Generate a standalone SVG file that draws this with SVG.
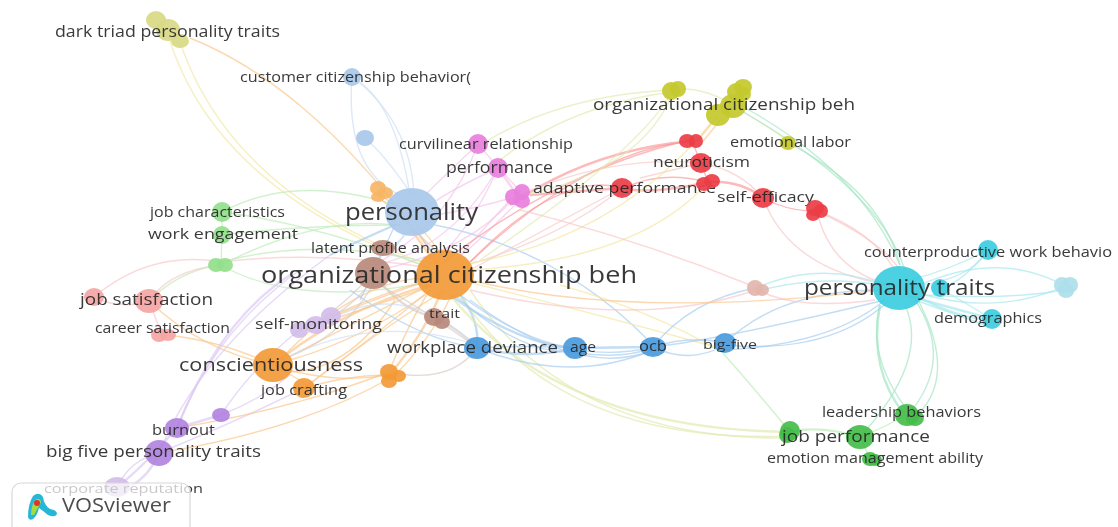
<svg xmlns="http://www.w3.org/2000/svg" width="1118" height="527" viewBox="0 0 1118 527">
<defs>
<style>
text{font-family:"Open Sans","Noto Sans","DejaVu Sans",sans-serif;fill:#262626;opacity:.9}
#links path{fill:none;stroke-width:1.4;stroke-opacity:.68}
#links path.t{stroke-width:2.4}
.o{stroke:#fbc68a}.b{stroke:#a6cdf0}.l{stroke:#cddff3}.p{stroke:#f3c4ec}.r{stroke:#fb9a9a}.s{stroke:#f7c8c8}.g{stroke:#bdeab8}.y{stroke:#f3e8a4}.v{stroke:#dcc8f3}.c{stroke:#a6e8ee}.m{stroke:#a4e4c4}.n{stroke:#d8ccc4}.k{stroke:#e0eab0}
.oc{fill:#f39a36}.bc{fill:#4b9bdc}.lc{fill:#a9c8ea}.pc{fill:#e87fdc}.rc{fill:#ec3d45}.sc{fill:#f6a5a5}.gc{fill:#44bd4a}.lg{fill:#93e08c}.yc{fill:#c4c92e}.kc{fill:#d9d986}.vc{fill:#b184e0}.wc{fill:#d2bdea}.cc{fill:#3ccde0}.ac{fill:#ace0ec}.tc{fill:#b98a7c}.dc{fill:#e3b5ac}.fc{fill:#f7b566}
ellipse{fill-opacity:.92}
</style>
<filter id="soft" x="-2%" y="-2%" width="104%" height="104%"><feGaussianBlur stdDeviation="0.55"/></filter>
</defs>
<rect width="1118" height="527" fill="#ffffff"/>
<g filter="url(#soft)">
<g id="links">
<path class="y" d="M168 35Q215 190 430 268"/><path class="y" d="M180 42Q230 190 420 262"/><path class="o" d="M190 38Q320 90 440 265"/>
<path class="l" d="M352 77Q345 170 400 195"/><path class="l" d="M352 77Q410 120 414 195"/><path class="l" d="M352 77Q395 100 410 195"/><path class="l" d="M365 138Q385 155 412 195"/>
<path class="g" d="M222 212Q300 170 410 210"/><path class="g" d="M222 235Q300 225 400 225"/><path class="g" d="M221 265Q320 215 395 225"/><path class="g" d="M222 212Q320 225 430 268"/><path class="g" d="M221 265Q300 310 440 280"/><path class="g" d="M221 262Q320 235 440 265"/><path class="g" d="M221 265Q180 270 149 301"/><path class="g" d="M222 235L221 265"/><path class="g" d="M222 212L222 235"/>
<path class="s" d="M94 297Q120 310 149 301"/><path class="s" d="M149 301Q170 270 221 265"/><path class="s" d="M149 301L162 335"/><path class="s" d="M94 297Q150 250 221 262"/><path class="o" d="M149 301Q200 350 273 365"/><path class="o" d="M165 335Q220 340 273 365"/><path class="s" d="M221 262Q320 250 430 268"/>
<path class="v t" d="M177 428Q220 320 290 275"/><path class="v" d="M177 428Q215 330 300 270"/><path class="v" d="M159 453Q200 350 330 255"/><path class="v t" d="M177 428L221 415"/><path class="v" d="M221 415Q260 400 290 375"/><path class="v" d="M159 453Q240 420 300 390"/><path class="v t" d="M117 487Q140 470 177 428"/><path class="v" d="M117 487Q130 460 159 453"/><path class="v t" d="M130 487Q150 475 159 453"/><path class="v" d="M221 415Q250 370 299 330"/>
<path class="o" d="M159 453Q300 430 390 378"/><path class="o" d="M177 428Q290 410 389 372"/><path class="o t" d="M273 365Q340 310 430 285"/><path class="o" d="M273 365Q360 320 430 285"/><path class="o" d="M280 360Q350 285 420 278"/><path class="o" d="M273 365Q330 385 389 375"/><path class="o" d="M304 388Q370 340 430 290"/><path class="o" d="M304 388Q380 330 445 290"/><path class="o t" d="M389 375Q420 340 440 295"/><path class="o" d="M395 375Q430 340 450 298"/><path class="o" d="M389 372Q410 320 430 290"/><path class="o" d="M300 330Q370 300 430 280"/><path class="o" d="M316 325Q390 300 435 285"/><path class="o" d="M331 316Q390 290 430 280"/><path class="o" d="M273 365Q320 390 304 388"/><path class="o" d="M290 360Q360 340 425 295"/><path class="o" d="M304 388Q350 375 389 375"/><path class="o" d="M290 372Q350 370 395 300"/>
<path class="n" d="M373 273Q330 320 299 330"/><path class="n" d="M373 280Q350 310 316 325"/><path class="n t" d="M373 273Q400 310 434 317"/><path class="n" d="M380 285Q440 320 477 348"/><path class="n t" d="M434 317Q460 330 477 348"/><path class="n" d="M373 285Q340 340 280 360"/><path class="n" d="M389 372Q450 385 477 348"/>
<path class="l" d="M412 230L373 262"/><path class="l" d="M405 230Q400 250 383 248"/><path class="b t" d="M395 225Q360 240 330 255"/><path class="b" d="M420 235Q430 250 440 260"/><path class="b t" d="M460 295Q480 320 477 348"/><path class="b" d="M350 290Q420 340 477 348"/><path class="l" d="M273 365Q370 310 477 345"/><path class="l" d="M330 320Q400 280 470 340"/><path class="b" d="M395 225Q370 280 360 300"/><path class="b" d="M435 225Q560 250 648 340"/>
<path class="o t" d="M412 230Q425 250 438 265"/><path class="o" d="M380 195Q420 220 445 260"/><path class="o" d="M370 190Q400 215 440 255"/>
<path class="p" d="M478 144Q440 180 425 195"/><path class="p" d="M498 168Q450 190 430 205"/><path class="p" d="M498 168Q470 230 440 255"/><path class="p" d="M478 144Q500 170 521 192"/><path class="p t" d="M498 168L515 192"/><path class="p" d="M515 197Q470 210 435 215"/><path class="p" d="M515 197Q470 250 380 270"/><path class="p" d="M520 200Q470 250 455 260"/><path class="p" d="M478 144Q450 220 380 262"/><path class="p" d="M498 168Q450 250 375 265"/><path class="p" d="M510 200L460 255"/>
<path class="r t" d="M692 141Q590 150 510 205"/><path class="r" d="M692 141Q590 150 470 262"/><path class="s" d="M701 163Q610 155 520 195"/><path class="r t" d="M622 188L530 195"/><path class="r" d="M622 188Q560 170 470 262"/><path class="r" d="M708 182Q660 170 625 188"/><path class="r t" d="M708 182Q650 195 622 188"/><path class="s" d="M701 163L640 178"/><path class="r" d="M692 141L701 163"/><path class="r" d="M701 163L708 182"/><path class="r t" d="M708 182Q740 180 763 198"/><path class="s" d="M701 163Q740 170 763 198"/><path class="r" d="M763 198Q790 212 817 211"/><path class="s" d="M622 188Q560 240 450 270"/><path class="r" d="M690 140Q560 170 440 265"/><path class="s" d="M622 188L470 270"/><path class="o t" d="M718 115L697 141"/><path class="o" d="M722 118L700 145"/>
<path class="s" d="M763 198Q790 270 890 285"/><path class="s" d="M817 211Q830 270 890 285"/><path class="s" d="M817 211Q870 230 895 270"/><path class="s" d="M817 211Q880 240 900 270"/>
<path class="k" d="M672 90Q560 95 480 145"/><path class="k" d="M672 92Q570 105 500 160"/><path class="k" d="M672 90Q700 85 733 105"/><path class="k" d="M672 95Q640 170 525 195"/><path class="k" d="M672 92Q640 150 480 260"/><path class="y" d="M708 182Q640 260 470 270"/><path class="y" d="M718 115Q620 240 460 265"/>
<path class="k" d="M740 110Q790 140 788 143"/><path class="m" d="M740 105Q860 170 900 265"/><path class="m" d="M740 110Q880 190 905 270"/><path class="m" d="M788 143Q880 190 900 265"/>
<path class="c" d="M988 250Q950 270 910 280"/><path class="c" d="M988 250Q975 275 925 285"/><path class="c" d="M988 250Q960 285 940 288"/><path class="c" d="M920 285Q1000 250 1065 286"/><path class="c" d="M925 295Q1000 315 1065 286"/><path class="c" d="M925 295Q1010 300 1065 290"/><path class="c t" d="M905 295L992 319"/><path class="c t" d="M915 295Q960 320 992 319"/><path class="c" d="M940 288L992 319"/><path class="c" d="M915 300L985 325"/>
<path class="m t" d="M880 305Q868 370 905 415"/><path class="m" d="M880 305Q865 360 915 420"/><path class="m" d="M905 305Q930 360 860 437"/><path class="m" d="M915 300Q955 360 908 415"/><path class="m" d="M918 300Q960 380 912 420"/><path class="g" d="M860 437Q890 425 905 415"/><path class="g t" d="M790 432Q820 425 860 437"/><path class="g" d="M860 437L870 459"/><path class="g" d="M722 352Q760 395 790 432"/>
<path class="k t" d="M450 295Q560 430 790 432"/><path class="k" d="M460 295Q560 445 790 436"/><path class="k" d="M470 290Q570 440 785 438"/><path class="y" d="M560 285Q650 310 722 352"/><path class="y" d="M460 280Q620 320 725 350"/>
<path class="b t" d="M477 348Q530 360 575 348"/><path class="b" d="M477 348Q530 345 575 348"/><path class="b t" d="M450 295Q520 345 575 348"/><path class="b" d="M455 295Q520 355 575 352"/><path class="b" d="M460 295Q560 370 653 347"/><path class="b" d="M470 300Q580 380 653 350"/><path class="b" d="M477 348Q570 385 653 350"/><path class="b t" d="M575 348L653 347"/><path class="b" d="M575 352Q620 360 653 348"/><path class="b" d="M653 347Q690 335 725 343"/><path class="b" d="M653 347Q690 365 725 345"/><path class="b" d="M725 345Q830 355 890 300"/><path class="b" d="M725 350Q830 345 885 300"/><path class="b" d="M653 347Q720 340 885 300"/><path class="b" d="M653 347Q690 300 756 288"/><path class="b" d="M725 343Q780 290 880 290"/><path class="c" d="M756 288Q820 260 885 285"/><path class="c" d="M762 290Q820 275 880 285"/><path class="s" d="M762 292Q800 310 875 300"/>
<path class="s" d="M470 290Q640 330 756 290"/><path class="s" d="M520 210Q640 240 750 285"/><path class="o" d="M470 280Q630 320 880 290"/>
</g>
<g id="node-organizational-citizenship-2"><ellipse class="tc" cx="373" cy="273" rx="18" ry="16"/><ellipse class="oc" cx="445" cy="275" rx="29" ry="25"/><text x="261" y="283" font-size="24" textLength="376" lengthAdjust="spacingAndGlyphs">organizational citizenship beh</text></g>
<g id="node-personality"><ellipse class="lc" cx="412" cy="212" rx="27" ry="24"/><text x="345" y="220" font-size="23" textLength="133" lengthAdjust="spacingAndGlyphs">personality</text></g>
<g id="node-personality-traits"><ellipse class="cc" cx="899" cy="288" rx="26" ry="22"/><ellipse class="cc" cx="940" cy="288" rx="9" ry="9"/><text x="804" y="295" font-size="22" textLength="191" lengthAdjust="spacingAndGlyphs">personality traits</text></g>
<g id="node-dark-triad"><ellipse class="kc" cx="156" cy="20" rx="10" ry="9"/><ellipse class="kc" cx="168" cy="30" rx="12" ry="11"/><ellipse class="kc" cx="180" cy="41" rx="9" ry="7"/><text x="55" y="37" font-size="15.5" textLength="225" lengthAdjust="spacingAndGlyphs">dark triad personality traits</text></g>
<g id="node-customer-citizenship"><ellipse class="lc" cx="352" cy="77" rx="9" ry="9"/><text x="240" y="82" font-size="14.5" textLength="231" lengthAdjust="spacingAndGlyphs">customer citizenship behavior(</text></g>
<g id="node-pale-blue"><ellipse class="lc" cx="365" cy="138" rx="9" ry="8"/></g>
<g id="node-orange-top"><ellipse class="fc" cx="378" cy="188" rx="8" ry="7"/><ellipse class="fc" cx="385" cy="193" rx="8" ry="6"/><ellipse class="fc" cx="378" cy="197" rx="7" ry="5"/></g>
<g id="node-curvilinear"><ellipse class="pc" cx="478" cy="144" rx="10" ry="10"/><text x="399" y="149" font-size="14.5" textLength="174" lengthAdjust="spacingAndGlyphs">curvilinear relationship</text></g>
<g id="node-performance"><ellipse class="pc" cx="498" cy="168" rx="10" ry="10"/><text x="446" y="173" font-size="15.5" textLength="107" lengthAdjust="spacingAndGlyphs">performance</text></g>
<g id="node-pink-cluster"><ellipse class="pc" cx="522" cy="192" rx="8" ry="8"/><ellipse class="pc" cx="513" cy="197" rx="8" ry="8"/><ellipse class="pc" cx="522" cy="201" rx="8" ry="7"/></g>
<g id="node-adaptive-performance"><ellipse class="rc" cx="622" cy="188" rx="11" ry="10"/><text x="533" y="193" font-size="15.3" textLength="183" lengthAdjust="spacingAndGlyphs">adaptive performance</text></g>
<g id="node-yellow-a"><ellipse class="yc" cx="671" cy="91" rx="9" ry="9"/><ellipse class="yc" cx="678" cy="89" rx="8" ry="8"/></g>
<g id="node-yellow-b"><ellipse class="yc" cx="736" cy="92" rx="9" ry="9"/><ellipse class="yc" cx="743" cy="87" rx="9" ry="8"/><ellipse class="yc" cx="744" cy="94" rx="7" ry="7"/></g>
<g id="node-organizational-citizenship-1"><ellipse class="yc" cx="718" cy="115" rx="12" ry="11"/><ellipse class="yc" cx="733" cy="106" rx="13" ry="12"/><text x="593" y="110" font-size="17" textLength="262" lengthAdjust="spacingAndGlyphs">organizational citizenship beh</text></g>
<g id="node-emotional-labor"><ellipse class="yc" cx="788" cy="143" rx="8" ry="7"/><text x="730" y="147" font-size="14" textLength="121" lengthAdjust="spacingAndGlyphs">emotional labor</text></g>
<g id="node-red-top"><ellipse class="rc" cx="687" cy="141" rx="8" ry="7"/><ellipse class="rc" cx="696" cy="141" rx="7" ry="7"/></g>
<g id="node-neuroticism"><ellipse class="rc" cx="701" cy="163" rx="11" ry="10"/><text x="653" y="167" font-size="15.3" textLength="97" lengthAdjust="spacingAndGlyphs">neuroticism</text></g>
<g id="node-red-mid"><ellipse class="rc" cx="704" cy="184" rx="8" ry="7"/><ellipse class="rc" cx="712" cy="181" rx="8" ry="7"/></g>
<g id="node-self-efficacy"><ellipse class="rc" cx="763" cy="198" rx="11" ry="10"/><text x="717" y="202" font-size="15.3" textLength="97" lengthAdjust="spacingAndGlyphs">self-efficacy</text></g>
<g id="node-red-right"><ellipse class="rc" cx="815" cy="208" rx="9" ry="8"/><ellipse class="rc" cx="821" cy="211" rx="7" ry="7"/><ellipse class="rc" cx="813" cy="215" rx="7" ry="6"/></g>
<g id="node-counterproductive"><ellipse class="cc" cx="988" cy="250" rx="10" ry="10"/><text x="864" y="257" font-size="14.5" textLength="248" lengthAdjust="spacingAndGlyphs">counterproductive work behavio</text></g>
<g id="node-pale-cyan"><ellipse class="ac" cx="1062" cy="285" rx="8" ry="8"/><ellipse class="ac" cx="1070" cy="285" rx="8" ry="8"/><ellipse class="ac" cx="1066" cy="291" rx="8" ry="7"/></g>
<g id="node-demographics"><ellipse class="cc" cx="992" cy="319" rx="10" ry="10"/><text x="934" y="323" font-size="14.5" textLength="108" lengthAdjust="spacingAndGlyphs">demographics</text></g>
<g id="node-pinkbrown"><ellipse class="dc" cx="755" cy="288" rx="8" ry="8"/><ellipse class="dc" cx="762" cy="290" rx="7" ry="6"/></g>
<g id="node-job-characteristics"><ellipse class="lg" cx="222" cy="212" rx="10" ry="10"/><text x="150" y="217" font-size="14" textLength="135" lengthAdjust="spacingAndGlyphs">job characteristics</text></g>
<g id="node-work-engagement"><ellipse class="lg" cx="222" cy="235" rx="9" ry="9"/><text x="148" y="239" font-size="15.3" textLength="150" lengthAdjust="spacingAndGlyphs">work engagement</text></g>
<g id="node-green-left"><ellipse class="lg" cx="216" cy="265" rx="8" ry="7"/><ellipse class="lg" cx="225" cy="265" rx="8" ry="7"/></g>
<g id="node-latent-profile"><ellipse class="tc" cx="383" cy="248" rx="12" ry="8"/><text x="311" y="253" font-size="14" textLength="159" lengthAdjust="spacingAndGlyphs">latent profile analysis</text></g>
<g id="node-job-satisfaction"><ellipse class="sc" cx="94" cy="297" rx="10" ry="9"/><ellipse class="sc" cx="149" cy="301" rx="14" ry="12"/><text x="80" y="305" font-size="17" textLength="133" lengthAdjust="spacingAndGlyphs">job satisfaction</text></g>
<g id="node-career-satisfaction"><ellipse class="sc" cx="159" cy="335" rx="8" ry="7"/><ellipse class="sc" cx="168" cy="335" rx="8" ry="6"/><text x="95" y="333" font-size="14" textLength="135" lengthAdjust="spacingAndGlyphs">career satisfaction</text></g>
<g id="node-self-monitoring"><ellipse class="wc" cx="299" cy="330" rx="9" ry="8"/><ellipse class="wc" cx="316" cy="325" rx="11" ry="9"/><ellipse class="wc" cx="331" cy="316" rx="10" ry="9"/><text x="255" y="329" font-size="15.3" textLength="127" lengthAdjust="spacingAndGlyphs">self-monitoring</text></g>
<g id="node-trait"><ellipse class="tc" cx="434" cy="317" rx="10" ry="9"/><ellipse class="tc" cx="442" cy="322" rx="8" ry="7"/><text x="429" y="318" font-size="13.5" textLength="31" lengthAdjust="spacingAndGlyphs">trait</text></g>
<g id="node-workplace-deviance"><ellipse class="bc" cx="477" cy="348" rx="13" ry="11"/><text x="387" y="353" font-size="16.5" textLength="171" lengthAdjust="spacingAndGlyphs">workplace deviance</text></g>
<g id="node-age"><ellipse class="bc" cx="575" cy="348" rx="12" ry="11"/><text x="570" y="352" font-size="14" textLength="26" lengthAdjust="spacingAndGlyphs">age</text></g>
<g id="node-ocb"><ellipse class="bc" cx="653" cy="347" rx="13" ry="10"/><text x="639" y="351" font-size="14" textLength="28" lengthAdjust="spacingAndGlyphs">ocb</text></g>
<g id="node-big-five"><ellipse class="bc" cx="725" cy="343" rx="11" ry="10"/><text x="703" y="349" font-size="13.5" textLength="54" lengthAdjust="spacingAndGlyphs">big-five</text></g>
<g id="node-conscientiousness"><ellipse class="oc" cx="273" cy="365" rx="20" ry="17"/><text x="179" y="371" font-size="18.5" textLength="184" lengthAdjust="spacingAndGlyphs">conscientiousness</text></g>
<g id="node-job-crafting"><ellipse class="oc" cx="304" cy="388" rx="11" ry="10"/><text x="261" y="395" font-size="14" textLength="86" lengthAdjust="spacingAndGlyphs">job crafting</text></g>
<g id="node-orange-cluster"><ellipse class="oc" cx="389" cy="372" rx="9" ry="8"/><ellipse class="oc" cx="399" cy="376" rx="7" ry="6"/><ellipse class="oc" cx="389" cy="381" rx="8" ry="7"/></g>
<g id="node-purple-small"><ellipse class="vc" cx="221" cy="415" rx="9" ry="7"/></g>
<g id="node-burnout"><ellipse class="vc" cx="177" cy="428" rx="12" ry="10"/><text x="152" y="435" font-size="14.5" textLength="63" lengthAdjust="spacingAndGlyphs">burnout</text></g>
<g id="node-big-five-personality"><ellipse class="vc" cx="159" cy="453" rx="14" ry="13"/><text x="46" y="457" font-size="15.5" textLength="215" lengthAdjust="spacingAndGlyphs">big five personality traits</text></g>
<g id="node-leadership-behaviors"><ellipse class="gc" cx="907" cy="415" rx="12" ry="11"/><ellipse class="gc" cx="915" cy="418" rx="9" ry="8"/><text x="822" y="417" font-size="14" textLength="159" lengthAdjust="spacingAndGlyphs">leadership behaviors</text></g>
<g id="node-green-left2"><ellipse class="gc" cx="790" cy="431" rx="10" ry="10"/><ellipse class="gc" cx="787" cy="435" rx="8" ry="8"/></g>
<g id="node-job-performance"><ellipse class="gc" cx="860" cy="437" rx="14" ry="12"/><text x="782" y="442" font-size="17" textLength="148" lengthAdjust="spacingAndGlyphs">job performance</text></g>
<g id="node-emotion-management"><ellipse class="gc" cx="870" cy="459" rx="8" ry="7"/><ellipse class="gc" cx="875" cy="460" rx="7" ry="6"/><text x="767" y="463" font-size="14" textLength="216" lengthAdjust="spacingAndGlyphs">emotion management ability</text></g>
<g id="node-corporate-reputation"><ellipse class="wc" cx="117" cy="487" rx="13" ry="10"/><text x="44" y="493" font-size="13" textLength="159" lengthAdjust="spacingAndGlyphs">corporate reputation</text></g>
<g id="logo">
<rect x="12" y="483" width="178" height="60" rx="9" fill="#ffffff" fill-opacity=".72" stroke="#d8d8d8" stroke-width="1.2"/>
<path d="M28 517Q28 504 33 496Q39 491 43 497Q44 505 50 509Q57 510 57 514Q55 518 48 515Q42 510 39 508Q37 516 33 519Q29 521 28 517Z" fill="#25b6d8"/>
<path d="M31 515Q31 506 35 500Q40 497 41 502Q38 508 34 515Z" fill="#a5dc3c"/>
<ellipse cx="37" cy="503" rx="3" ry="3" fill="#e8232a" fill-opacity="1"/>
<text x="62" y="512" font-size="20" textLength="109" lengthAdjust="spacingAndGlyphs" style="fill:#3a3a3a">VOSviewer</text>
</g>
</g>
</svg>
